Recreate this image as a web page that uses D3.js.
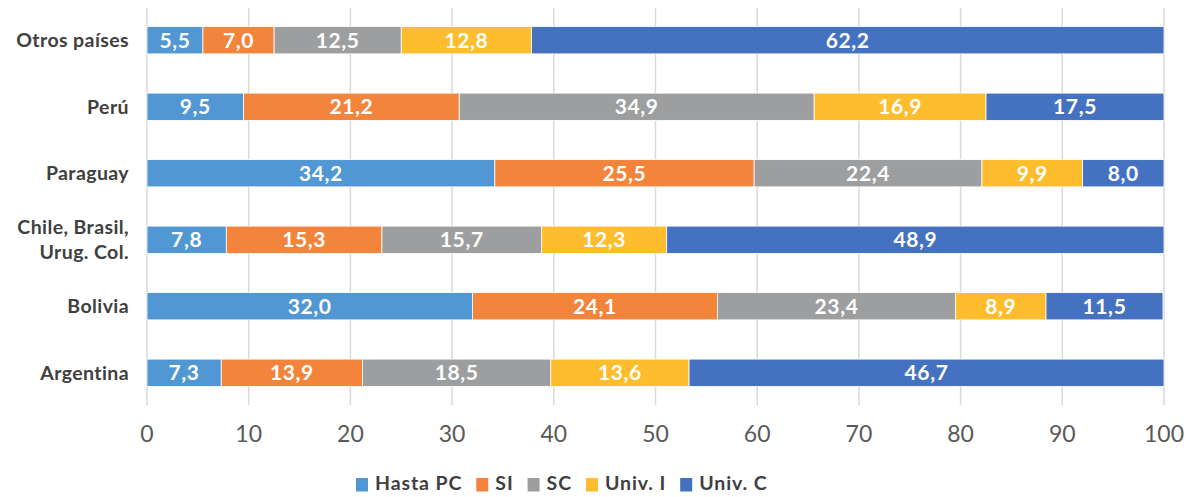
<!DOCTYPE html>
<html><head><meta charset="utf-8">
<script src="https://cdn.jsdelivr.net/npm/d3@7"></script>
<style>
body{margin:0;background:#fff;}
svg text{font-family:Lato,"Open Sans",sans-serif;}
</style></head>
<body><svg id="c" width="1190" height="497"></svg>
<script>
const categories = ["Otros países","Perú","Paraguay","Chile, Brasil, Urug. Col.","Bolivia","Argentina"];
const categoryLines = [["Otros países"],["Perú"],["Paraguay"],["Chile, Brasil,","Urug. Col."],["Bolivia"],["Argentina"]];
const seriesNames = ["Hasta PC","SI","SC","Univ. I","Univ. C"];
const hastaPC = [5.5, 9.5, 34.2, 7.8, 32.0, 7.3];
const si      = [7.0, 21.2, 25.5, 15.3, 24.1, 13.9];
const sc      = [12.5, 34.9, 22.4, 15.7, 23.4, 18.5];
const univI   = [12.8, 16.9, 9.9, 12.3, 8.9, 13.6];
const univC   = [62.2, 17.5, 8.0, 48.9, 11.5, 46.7];
const xTicks = [0,10,20,30,40,50,60,70,80,90,100];
const colors = ["#5097d3","#f3843c","#9d9ea0","#fdbd2c","#4472c0"];

const seriesVals = [hastaPC, si, sc, univI, univC];
const rows = categories.map((c,i)=>{
  const r = {cat:c};
  seriesNames.forEach((s,j)=> r[s]=seriesVals[j][i]);
  return r;
});
const stack = d3.stack().keys(seriesNames)(rows);

const svg = d3.select("#c");
const x = d3.scaleLinear().domain([0,100]).range([147,1164]);
const y = d3.scaleBand().domain(categories).range([7,406]).paddingInner(0.59).paddingOuter(0.295);

svg.append("g").selectAll("line").data(xTicks).join("line")
  .attr("x1",d=>x(d)).attr("x2",d=>x(d)).attr("y1",8).attr("y2",405)
  .attr("stroke","#d9d9d9").attr("stroke-width",1.5);

svg.append("g").selectAll("text").data(xTicks).join("text")
  .attr("x",d=>x(d)).attr("y",442).attr("text-anchor","middle")
  .attr("fill","#595959").attr("font-size",23).text(d=>d);

const fmt = v => d3.format(".1f")(v).replace(".",",");
const g = svg.append("g");
stack.forEach((layer,j)=>{
  const lg = g.append("g");
  lg.selectAll("rect").data(layer).join("rect")
    .attr("x",d=>x(d[0])).attr("width",d=>x(d[1])-x(d[0]))
    .attr("y",d=>y(d.data.cat)).attr("height",y.bandwidth())
    .attr("fill",colors[j]).attr("stroke","#fff").attr("stroke-width",0.8);
  lg.selectAll("text").data(layer).join("text")
    .attr("x",d=>(x(d[0])+x(d[1]))/2).attr("y",d=>y(d.data.cat)+y.bandwidth()/2+7.5)
    .attr("text-anchor","middle").attr("fill","#fff").attr("font-size",21)
    .attr("font-weight","bold").attr("letter-spacing",0.6)
    .text(d=>fmt(d[1]-d[0]));
});

categories.forEach((c,i)=>{
  const lines = categoryLines[i];
  const cy = y(c)+y.bandwidth()/2;
  const t = svg.append("text").attr("text-anchor","end").attr("fill","#404040")
    .attr("font-size",19.5).attr("font-weight","bold").attr("letter-spacing",0.4);
  lines.forEach((l,k)=>{
    t.append("tspan").attr("x",129)
      .attr("y", cy + 7 + (k - (lines.length-1)/2)*25).text(l);
  });
});

const leg = svg.append("g");
let lx = 356;
seriesNames.forEach((s,j)=>{
  leg.append("rect").attr("x",lx).attr("y",478).attr("width",12).attr("height",13.5).attr("fill",colors[j]);
  const t = leg.append("text").attr("x",lx+19).attr("y",490).attr("fill","#404040")
    .attr("font-size",19.5).attr("font-weight","bold").attr("letter-spacing",0.9).text(s);
  lx += 19 + t.node().getComputedTextLength() + 14;
});
</script></body></html>
